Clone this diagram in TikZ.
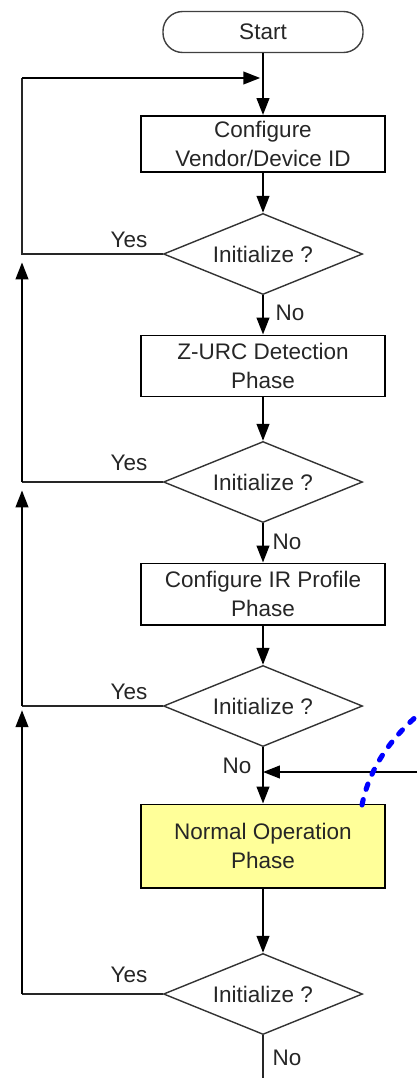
\documentclass[tikz,border=0pt]{standalone}
\usepackage{fontspec}
\setmainfont{Liberation Sans}
\usetikzlibrary{arrows.meta, shapes.geometric}
\definecolor{opyellow}{RGB}{255,255,153}
\tikzset{terminal/.style = {draw = black!75, line width = 1pt, rounded corners = 14pt,
    minimum width = 5cm, minimum height = 1.025cm, inner sep = 0pt}}
\tikzset{phase/.style = {draw, line width = 1.4pt, minimum width = 6.075cm,
    minimum height = 1.525cm, align = center, inner sep = 0pt}}
\tikzset{check/.style = {shape = diamond, draw = black!80, line width = 1pt, aspect = 2.45,
    minimum width = 4.975cm, minimum height = 2.025cm, inner sep = 0pt}}
\tikzset{flow/.style = {line width = 1.4pt, -{Triangle[length = 12pt, width = 9pt]}}}
\tikzset{edge/.style = {line width = 1.4pt, draw = black!85}}
\tikzset{answer/.style = {inner sep = 0pt}}

\begin{document}
\begin{tikzpicture}[x = 0.025cm, y = -0.025cm,
    every node/.style = {font = \fontsize{16}{20}\selectfont, text = black!85}]
			\useasboundingbox (0, 0) rectangle (417, 1078);

			\node[terminal] (start) at (263, 32) {Start};
			\node[phase, minimum height = 1.4cm] (vendor) at (263, 144) {Configure\\Vendor/Device ID};
			\node[check] (init1) at (263, 254) {Initialize ?};
			\node[phase] (zurc) at (263, 366) {Z-URC Detection\\Phase};
			\node[check] (init2) at (263, 482) {Initialize ?};
			\node[phase] (irprof) at (263, 594) {Configure IR Profile\\Phase};
			\node[check] (init3) at (263, 706) {Initialize ?};
			\node[phase, fill = opyellow, minimum height = 2.075cm] (normal) at (263, 846) {Normal Operation\\Phase};
			\node[check] (init4) at (263, 994) {Initialize ?};

			\coordinate (top) at (22, 78);
			\coordinate (join) at (263, 78);
			\coordinate (left1) at (22, 254);
			\coordinate (left2) at (22, 482);
			\coordinate (left3) at (22, 706);
			\coordinate (left4) at (22, 994);
			\coordinate (merge) at (263, 772);
			\coordinate (right) at (417, 772);
			\coordinate (bottom) at (263, 1078);
			\coordinate (note) at (362, 805);

			% main path
			\draw[flow] (start) -- (vendor);
			\draw[flow] (vendor) -- (init1);
			\draw[flow] (init1) -- (zurc);
			\draw[flow] (zurc) -- (init2);
			\draw[flow] (init2) -- (irprof);
			\draw[flow] (irprof) -- (init3);
			\draw[flow] (init3) -- (normal);
			\draw[flow] (normal) -- (init4);
			\draw[edge] (init4) -- (bottom);
			\draw[flow] (right) -- (merge);

			% loops back on Yes
			\draw[edge] (init1.west) -- (left1) -- (top);
			\draw[flow] (top) -- ([xshift = -2pt]join);
			\draw[edge] (init2.west) -- (left2);
			\draw[flow, shorten > = 6pt] (left2) -- (left1);
			\draw[edge] (init3.west) -- (left3);
			\draw[flow, shorten > = 6pt] (left3) -- (left2);
			\draw[edge] (init4.west) -- (left4);
			\draw[flow, shorten > = 3pt] (left4) -- (left3);

			\node[answer] at (129, 240) {Yes};
			\node[answer] at (129, 463) {Yes};
			\node[answer] at (129, 692) {Yes};
			\node[answer] at (129, 975) {Yes};
			\node[answer] at (290, 313) {No};
			\node[answer] at (287, 542) {No};
			\node[answer] at (237, 766) {No};
			\node[answer] at (287, 1058) {No};

			\draw[blue, line width = 3.6pt, line cap = round, dash pattern = on 4pt off 7.5pt]
				(note) .. controls (368, 775) and (385, 740) .. (430, 705);
		\end{tikzpicture}
\end{document}
